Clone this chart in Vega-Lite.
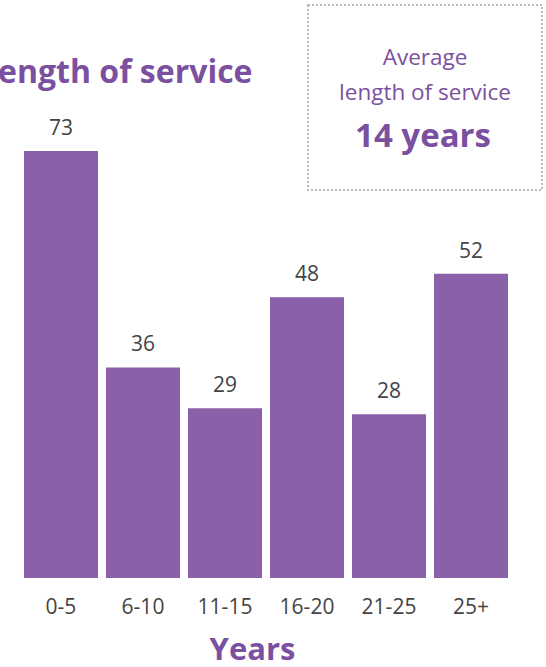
{
  "$schema": "https://vega.github.io/schema/vega-lite/v6.json",
  "autosize": {"type": "none"},
  "width": 492,
  "height": 468,
  "padding": {"left": 20, "top": 110, "right": 34, "bottom": 89},
  "background": "white",
  "title": {
    "text": "Length of service",
    "anchor": "start",
    "frame": "group",
    "dx": -40,
    "dy": 139,
    "offset": 28,
    "baseline": "alphabetic",
    "font": "Open Sans",
    "fontSize": 32,
    "fontWeight": "bold",
    "color": "#7B50A0"
  },
  "data": {
    "values": [
      {"years": "0-5", "count": 73},
      {"years": "6-10", "count": 36},
      {"years": "11-15", "count": 29},
      {"years": "16-20", "count": 48},
      {"years": "21-25", "count": 28},
      {"years": "25+", "count": 52}
    ]
  },
  "encoding": {
    "x": {
      "field": "years",
      "type": "nominal",
      "sort": null,
      "scale": {"paddingInner": 0.09756, "paddingOuter": 0.04878},
      "axis": {
        "title": "Years",
        "labelAngle": 0,
        "labelFont": "Open Sans",
        "labelFontSize": 21,
        "labelColor": "#444444",
        "labelPadding": 18,
        "ticks": false,
        "domain": false,
        "grid": false,
        "titleFont": "Open Sans",
        "titleFontSize": 31,
        "titleFontWeight": "bold",
        "titleColor": "#7B50A0",
        "titlePadding": 18,
        "titleX": 232
      }
    },
    "y": {
      "field": "count",
      "type": "quantitative",
      "scale": {"domain": [0, 80]},
      "axis": null
    }
  },
  "layer": [
    {
      "mark": {"type": "bar"},
      "encoding": {
        "color": {
          "datum": "14 years",
          "scale": {"range": ["#8A60A8"]},
          "legend": {
            "title": ["Average", "length of service"],
            "orient": "none",
            "legendX": 288,
            "legendY": -105,
            "titleFont": "Open Sans",
            "titleFontSize": 22.5,
            "titleFontWeight": "normal",
            "titleColor": "#7B50A0",
            "titleAlign": "center",
            "titleAnchor": "middle",
            "titleBaseline": "line-top",
            "titleLineHeight": 35,
            "titlePadding": 22,
            "labelFont": "Open Sans",
            "labelFontSize": 33,
            "labelFontWeight": "bold",
            "labelColor": "#7B50A0",
            "labelAlign": "center",
            "labelOffset": 21,
            "labelLimit": 400,
            "symbolSize": 1849,
            "symbolOpacity": 0,
            "symbolStrokeWidth": 0,
            "padding": 31,
            "strokeColor": "#BBBBBB",
            "encode": {
              "legend": {"update": {"strokeDash": {"value": [2, 2]}, "strokeWidth": {"value": 2}}},
              "title": {"update": {"dy": {"value": 5}}}
            }
          }
        }
      }
    },
    {
      "mark": {
        "type": "text",
        "baseline": "alphabetic",
        "dy": -16,
        "font": "Open Sans",
        "fontSize": 21,
        "color": "#444444"
      },
      "encoding": {"text": {"field": "count", "type": "quantitative"}}
    }
  ],
  "config": {"view": {"stroke": null}}
}
